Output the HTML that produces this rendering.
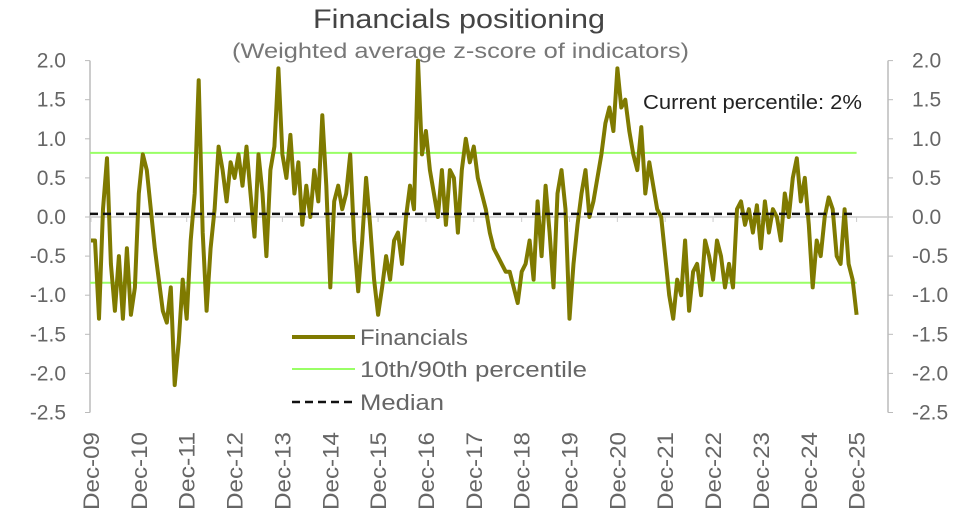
<!DOCTYPE html>
<html><head><meta charset="utf-8"><style>
body{margin:0;background:#fff;}
svg{display:block;font-family:"Liberation Sans",sans-serif;}
</style></head><body>
<svg id="chart" width="970" height="516" viewBox="0 0 970 516">
<text x="313" y="28" font-size="27" fill="#444" textLength="292" lengthAdjust="spacingAndGlyphs">Financials positioning</text>
<text x="232" y="58" font-size="21" fill="#777" textLength="457" lengthAdjust="spacingAndGlyphs">(Weighted average z-score of indicators)</text>
<g id="axes"></g>
<g id="marks"></g>
<text x="643" y="109" font-size="20" fill="#222" textLength="219" lengthAdjust="spacingAndGlyphs">Current percentile: 2%</text>
<g>
<line x1="292" y1="337" x2="355" y2="337" stroke="#7f7a00" stroke-width="4"/>
<text x="360" y="345" font-size="22" fill="#666" textLength="108" lengthAdjust="spacingAndGlyphs">Financials</text>
<line x1="292" y1="369" x2="355" y2="369" stroke="#99ff66" stroke-width="2"/>
<text x="360" y="377" font-size="22" fill="#666" textLength="227" lengthAdjust="spacingAndGlyphs">10th/90th percentile</text>
<line x1="292" y1="402" x2="355" y2="402" stroke="#111" stroke-width="2.5" stroke-dasharray="8,5"/>
<text x="360" y="410" font-size="22" fill="#666" textLength="84" lengthAdjust="spacingAndGlyphs">Median</text>
</g>
</svg>
<script>
const yTicks=[2.0,1.5,1.0,0.5,0.0,-0.5,-1.0,-1.5,-2.0,-2.5];
const xLabels=["Dec-09","Dec-10","Dec-11","Dec-12","Dec-13","Dec-14","Dec-15","Dec-16","Dec-17","Dec-18","Dec-19","Dec-20","Dec-21","Dec-22","Dec-23","Dec-24","Dec-25"];
const p90=0.82;
const p10=-0.84;
const median=0.04;
const financials=[-0.3,
-0.3,-1.3,0.1,0.75,-0.6,-1.2,-0.5,-1.3,-0.4,-1.25,-0.9,0.3,
0.8,0.6,0.1,-0.4,-0.8,-1.2,-1.35,-0.9,-2.15,-1.6,-0.8,-1.3,
-0.3,0.3,1.75,-0.2,-1.2,-0.4,0.1,0.9,0.6,0.2,0.7,0.5,
0.8,0.4,0.9,0.3,-0.25,0.8,0.3,-0.5,0.6,0.9,1.9,0.8,
0.5,1.05,0.3,0.7,-0.1,0.4,0.0,0.6,0.2,1.3,0.4,-0.9,
0.2,0.4,0.1,0.3,0.8,-0.3,-0.95,-0.3,0.5,-0.1,-0.8,-1.25,
-0.9,-0.5,-0.8,-0.3,-0.2,-0.6,0.0,0.4,0.1,2.0,0.8,1.1,
0.6,0.3,0.0,0.6,-0.1,0.6,0.5,-0.2,0.6,1.0,0.7,0.9,
0.5,0.3,0.1,-0.2,-0.4,-0.5,-0.6,-0.7,-0.7,-0.9,-1.1,-0.7,
-0.6,-0.3,-0.8,0.2,-0.5,0.4,-0.2,-0.9,0.3,0.6,0.1,-1.3,
-0.6,-0.1,0.3,0.6,0.0,0.2,0.5,0.8,1.2,1.4,1.1,1.9,
1.4,1.5,1.1,0.8,0.6,1.15,0.3,0.7,0.4,0.1,0.0,-0.5,
-1.0,-1.3,-0.8,-1.0,-0.3,-1.2,-0.7,-0.6,-1.0,-0.3,-0.5,-0.8,
-0.3,-0.5,-0.9,-0.6,-0.9,0.1,0.2,-0.1,0.1,-0.2,0.15,-0.4,
0.2,-0.2,0.1,0.0,-0.3,0.3,0.0,0.5,0.75,0.2,0.5,-0.1,
-0.9,-0.3,-0.5,0.0,0.25,0.1,-0.5,-0.6,0.1,-0.6,-0.8,-1.25];

const NS="http://www.w3.org/2000/svg";
const X0=91,YEARPX=47.85,PL=90,PR=888;
function yS(v){return 217-v*78.2;}
function xS(i){return X0+i/12*YEARPX;}
function mk(tag,attrs,parent){const e=document.createElementNS(NS,tag);for(const k in attrs)e.setAttribute(k,attrs[k]);parent.appendChild(e);return e;}
const axes=document.getElementById('axes'),marks=document.getElementById('marks');
let a=mk('line',{x1:PL,y1:yS(2),x2:PL,y2:yS(-2.5),stroke:'#bbb','stroke-width':1.5},axes);


a=mk('line',{x1:PR,y1:yS(2),x2:PR,y2:yS(-2.5),stroke:'#bbb','stroke-width':1.5},axes);


a=mk('line',{x1:PL,y1:yS(0),x2:PR,y2:yS(0),stroke:'#ccc','stroke-width':1.5},axes);


yTicks.forEach(v=>{
  const y=yS(v);
  mk('line',{x1:PL-5,y1:y,x2:PL,y2:y,stroke:'#bbb'},axes);
  mk('line',{x1:PR,y1:y,x2:PR+5,y2:y,stroke:'#bbb'},axes);
  let t=mk('text',{x:66,y:y+7,'text-anchor':'end','font-size':21,fill:'#666'},axes);
  t.textContent=v.toFixed(1);
  
  
  t=mk('text',{x:912,y:y+7,'font-size':21,fill:'#666'},axes);
  t.textContent=v.toFixed(1);
  
  
});
xLabels.forEach((lab,k)=>{
  const x=X0+k*YEARPX;
  mk('line',{x1:x,y1:yS(0),x2:x,y2:yS(0)+5,stroke:'#ccc'},axes);
  const t=mk('text',{x:0,y:0,'text-anchor':'end','font-size':22,fill:'#666',transform:`translate(${x+8},432) rotate(-90)`,textLength:78,lengthAdjust:'spacingAndGlyphs'},axes);
  t.textContent=lab;
  
  
});
const xEnd=xS(financials.length-1);
let l=mk('line',{x1:PL,y1:yS(p90),x2:xEnd,y2:yS(p90),stroke:'#99ff66','stroke-width':2},marks);


l=mk('line',{x1:PL,y1:yS(p10),x2:xEnd,y2:yS(p10),stroke:'#99ff66','stroke-width':2},marks);


const pts=financials.map((v,i)=>xS(i).toFixed(1)+','+yS(v).toFixed(1)).join(' ');
const s=mk('polyline',{points:pts,fill:'none',stroke:'#7f7a00','stroke-width':4,'stroke-linejoin':'round'},marks);


l=mk('line',{x1:PL,y1:yS(median),x2:xEnd,y2:yS(median),stroke:'#111','stroke-width':2.5,'stroke-dasharray':'8,5'},marks);


</script>
</body></html>
